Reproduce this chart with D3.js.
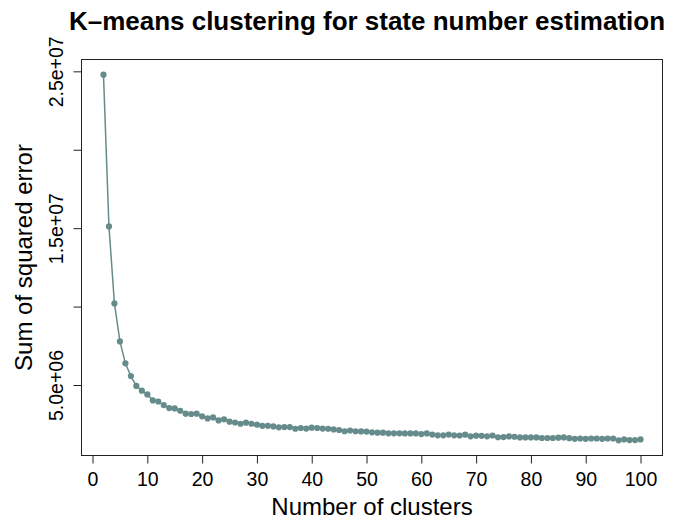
<!DOCTYPE html>
<html>
<head>
<meta charset="utf-8">
<script src="https://cdn.jsdelivr.net/npm/d3@7"></script>
<style>
  html, body { margin: 0; padding: 0; background: #fff; }
  svg { display: block; font-family: "Liberation Sans", Arial, Helvetica, sans-serif; }
</style>
</head>
<body>
<svg id="chart" width="678" height="521"></svg>
<script>
// Number of clusters tried by k-means
const clusters = d3.range(2, 101);

// Total within-cluster sum of squared error for each k (2..100)
const sse = [
  24790000, 15110000, 10200000, 7780000, 6380000, 5570000, 4940000, 4640000, 4400000,
  4020000, 3950000, 3720000, 3530000, 3510000, 3360000, 3170000, 3150000, 3170000, 3000000,
  2870000, 2930000, 2740000, 2810000, 2660000, 2610000, 2530000, 2600000, 2530000, 2470000,
  2400000, 2400000, 2360000, 2300000, 2320000, 2320000, 2210000, 2260000, 2220000, 2280000,
  2260000, 2220000, 2210000, 2170000, 2130000, 2050000, 2100000, 2050000, 2040000, 2030000,
  1980000, 1960000, 1960000, 1920000, 1920000, 1920000, 1910000, 1910000, 1910000, 1870000,
  1910000, 1840000, 1790000, 1790000, 1840000, 1790000, 1780000, 1830000, 1730000, 1770000,
  1760000, 1730000, 1780000, 1670000, 1680000, 1720000, 1700000, 1660000, 1660000, 1660000,
  1660000, 1620000, 1620000, 1620000, 1640000, 1660000, 1610000, 1570000, 1590000, 1570000,
  1590000, 1590000, 1570000, 1590000, 1590000, 1470000, 1530000, 1490000, 1490000, 1530000
];

// Axis ticks and labels
const xTicks = [0, 10, 20, 30, 40, 50, 60, 70, 80, 90, 100];
const yTicks = [5e6, 1e7, 1.5e7, 2e7, 2.5e7];
const yTickLabels = ["5.0e+06", "1.0e+07", "1.5e+07", "2.0e+07", "2.5e+07"];
// labels that fit without overlapping
const yLabelShown = [true, false, true, false, true];

const titleText = "K\u2013means clustering for state number estimation";
const xTitle = "Number of clusters";
const yTitle = "Sum of squared error";

const data = clusters.map((k, i) => ({ k, v: sse[i] }));

const plot = { left: 82, right: 662, top: 60, bottom: 455 };
const col = "#668B8B";

// extend data ranges by 4% on each side
function padded(ext) {
  const p = (ext[1] - ext[0]) * 0.04;
  return [ext[0] - p, ext[1] + p];
}

const x = d3.scaleLinear()
  .domain(padded(d3.extent(clusters)))
  .range([plot.left, plot.right]);
const y = d3.scaleLinear()
  .domain(padded(d3.extent(sse)))
  .range([plot.bottom, plot.top]);

const svg = d3.select("#chart");

// series line
svg.append("path")
  .datum(data)
  .attr("fill", "none")
  .attr("stroke", col)
  .attr("stroke-width", 1.5)
  .attr("d", d3.line().x(d => x(d.k)).y(d => y(d.v)));

// points
svg.append("g")
  .selectAll("circle")
  .data(data)
  .join("circle")
  .attr("cx", d => x(d.k))
  .attr("cy", d => y(d.v))
  .attr("r", 3.1)
  .attr("fill", col);

// frame
svg.append("rect")
  .attr("x", plot.left - 0.5)
  .attr("y", plot.top - 0.5)
  .attr("width", plot.right - plot.left + 1)
  .attr("height", plot.bottom - plot.top + 1)
  .attr("fill", "none")
  .attr("stroke", "#222")
  .attr("stroke-width", 1);

// x axis
const gx = svg.append("g")
  .attr("transform", `translate(0,${plot.bottom + 0.5})`)
  .call(d3.axisBottom(x).tickValues(xTicks).tickSize(8).tickFormat(d3.format("d")));
gx.select(".domain").remove();
gx.selectAll(".tick line").attr("stroke", "#222");
gx.selectAll(".tick text")
  .attr("y", 30)
  .attr("dy", null)
  .attr("fill", "#000")
  .style("font-size", "19.5px")
  .style("font-family", "'Liberation Sans', Arial, sans-serif");

// y axis
const gy = svg.append("g")
  .attr("transform", `translate(${plot.left - 0.5},0)`)
  .call(d3.axisLeft(y).tickValues(yTicks).tickSize(8)
    .tickFormat((d, i) => yLabelShown[i] ? yTickLabels[i] : ""));
gy.select(".domain").remove();
gy.selectAll(".tick line").attr("stroke", "#222");
gy.selectAll(".tick text")
  .attr("x", 0)
  .attr("y", -19)
  .attr("dy", null)
  .attr("transform", "rotate(-90)")
  .attr("text-anchor", "middle")
  .attr("fill", "#000")
  .style("font-size", "19.5px")
  .style("font-family", "'Liberation Sans', Arial, sans-serif");

// titles
svg.append("text")
  .attr("x", 367)
  .attr("y", 29.5)
  .attr("text-anchor", "middle")
  .attr("font-weight", "bold")
  .attr("font-size", 25)
  .attr("textLength", 596)
  .attr("lengthAdjust", "spacingAndGlyphs")
  .text(titleText);

svg.append("text")
  .attr("x", (plot.left + plot.right) / 2)
  .attr("y", 515)
  .attr("text-anchor", "middle")
  .attr("font-size", 24)
  .text(xTitle);

svg.append("text")
  .attr("transform", `translate(32,${(plot.top + plot.bottom) / 2}) rotate(-90)`)
  .attr("text-anchor", "middle")
  .attr("font-size", 24)
  .text(yTitle);
</script>
</body>
</html>
